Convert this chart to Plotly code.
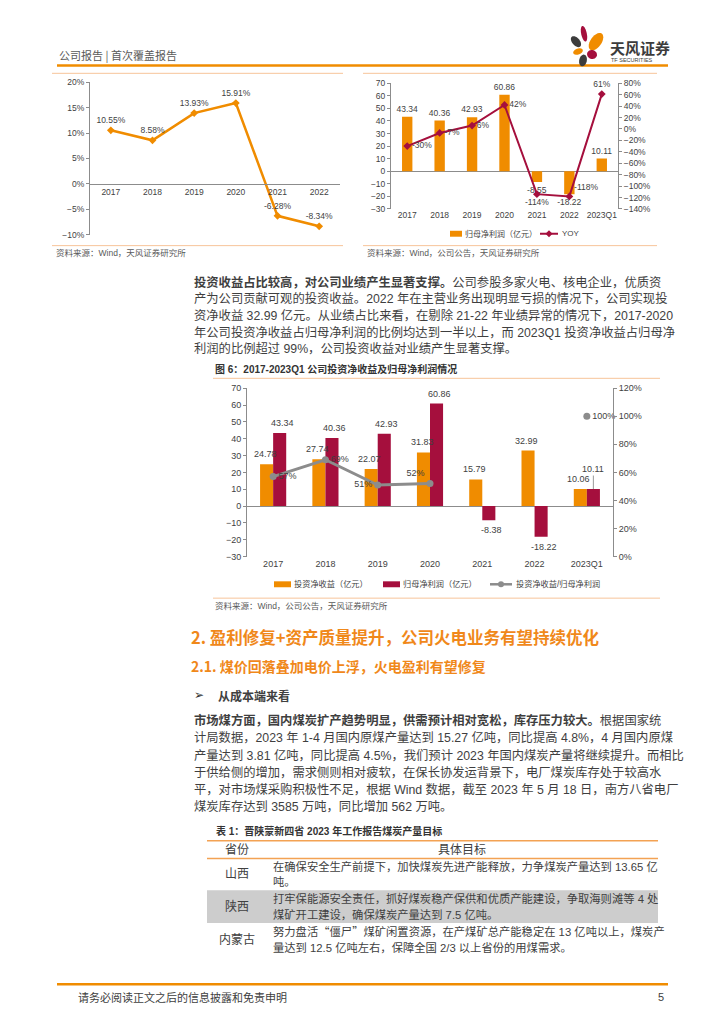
import math
import plotly.graph_objects as go

W, H = 724, 1024
def X(p): return p / W
def Y(p): return 1 - p / H

# ---------------- data ----------------
roe_years = ["2017", "2018", "2019", "2020", "2021", "2022"]
roe_values = [10.55, 8.58, 13.93, 15.91, -6.28, -8.34]

profit_cats = ["2017", "2018", "2019", "2020", "2021", "2022", "2023Q1"]
profit_values = [43.34, 40.36, 42.93, 60.86, -8.55, -18.22, 10.11]
profit_yoy = [-30, -7, 6, 42, -114, -118, 61]

inv_cats = ["2017", "2018", "2019", "2020", "2021", "2022", "2023Q1"]
inv_income = [24.78, 27.74, 22.07, 31.83, 15.79, 32.99, 10.06]
inv_profit = [43.34, 40.36, 42.93, 60.86, -8.38, -18.22, 10.11]
inv_ratio = [57, 69, 51, 52, None, None, 100]

Q = '<span style="font-family:Noto Sans CJK SC">'
para1 = [
    "<b>投资收益占比较高，对公司业绩产生显著支撑。</b>公司参股多家火电、核电企业，优质资",
    "产为公司贡献可观的投资收益。2022 年在主营业务出现明显亏损的情况下，公司实现投",
    "资净收益 32.99 亿元。从业绩占比来看，在剔除 21-22 年业绩异常的情况下，2017-2020",
    "年公司投资净收益占归母净利润的比例均达到一半以上，而 2023Q1 投资净收益占归母净",
    "利润的比例超过 99%，公司投资收益对业绩产生显著支撑。",
]
para2 = [
    "<b>市场煤方面，国内煤炭扩产趋势明显，供需预计相对宽松，库存压力较大。</b>根据国家统",
    "计局数据，2023 年 1-4 月国内原煤产量达到 15.27 亿吨，同比提高 4.8%，4 月国内原煤",
    "产量达到 3.81 亿吨，同比提高 4.5%，我们预计 2023 年国内煤炭产量将继续提升。而相比",
    "于供给侧的增加，需求侧则相对疲软，在保长协发运背景下，电厂煤炭库存处于较高水",
    "平，对市场煤采购积极性不足，根据 Wind 数据，截至 2023 年 5 月 18 日，南方八省电厂",
    "煤炭库存达到 3585 万吨，同比增加 562 万吨。",
]
table_header = ["省份", "具体目标"]
table_rows = [
    ("山西", ["在确保安全生产前提下，加快煤炭先进产能释放，力争煤炭产量达到 13.65 亿", "吨。"]),
    ("陕西", ["打牢保能源安全责任，抓好煤炭稳产保供和优质产能建设，争取海则滩等 4 处", "煤矿开工建设，确保煤炭产量达到 7.5 亿吨。"]),
    ("内蒙古", ["努力盘活" + Q + "“</span>僵尸" + Q + "”</span>煤矿闲置资源，在产煤矿总产能稳定在 13 亿吨以上，煤炭产",
              "量达到 12.5 亿吨左右，保障全国 2/3 以上省份的用煤需求。"]),
]

# ---------------- style ----------------
ORANGE = "#F08C00"
RED = "#A50F3D"
GRAY = "#8C8C8C"
TXT = "#3F3F3F"
AXC = "#8C8C8C"
FRAME = "#F7C49A"
HEAD = "#F0881A"
SANS = "Liberation Sans, Arial, Noto Sans CJK SC, sans-serif"
CJK = "Noto Sans CJK SC, sans-serif"
TF = dict(size=8.5, color=TXT, family=SANS)
TF3 = dict(size=9, color=TXT, family=SANS)

fig = go.Figure()

# ---- chart 1: ROE line ----
fig.add_trace(go.Scatter(
    x=roe_years, y=roe_values, xaxis="x", yaxis="y",
    mode="lines+markers+text", text=[f"{v:.2f}%" for v in roe_values],
    textposition="top center", textfont=TF, cliponaxis=False,
    line=dict(color=ORANGE, width=2.5), marker=dict(symbol="diamond", size=6, color=ORANGE)))

# ---- chart 2: net profit + yoy ----
fig.add_trace(go.Bar(
    x=profit_cats, y=profit_values, xaxis="x2", yaxis="y2", width=0.32,
    marker=dict(color=ORANGE, line=dict(width=0)),
    text=[f"{v:.2f}" for v in profit_values], textposition="outside",
    constraintext="none", cliponaxis=False, textfont=TF))
fig.add_trace(go.Scatter(
    x=profit_cats, y=profit_yoy, xaxis="x2", yaxis="y3",
    mode="lines+markers+text", text=[f"{v}%" for v in profit_yoy],
    textposition=["middle right", "middle right", "middle right", "middle right",
                  "bottom center", "top right", "top center"],
    textfont=TF, cliponaxis=False,
    line=dict(color=RED, width=2), marker=dict(symbol="diamond", size=6, color=RED)))

# ---- chart 3: investment income ----
fig.add_trace(go.Bar(
    x=inv_cats, y=inv_income, xaxis="x3", yaxis="y4", width=0.25, offset=-0.25,
    marker=dict(color=ORANGE, line=dict(width=0)), cliponaxis=False))
fig.add_trace(go.Bar(
    x=inv_cats, y=inv_profit, xaxis="x3", yaxis="y4", width=0.25, offset=0,
    marker=dict(color=RED, line=dict(width=0)), cliponaxis=False))
fig.add_trace(go.Scatter(
    x=inv_cats, y=inv_ratio, xaxis="x3", yaxis="y5",
    mode="lines+markers+text",
    text=[f"{v}%" if v is not None else "" for v in inv_ratio],
    textposition=["middle right", "middle right", "middle left", "top left",
                  "middle right", "middle right", "middle right"],
    textfont=TF3, cliponaxis=False, connectgaps=False,
    line=dict(color=GRAY, width=3), marker=dict(symbol="circle", size=7, color=GRAY)))

# ---------------- axes ----------------
c1_top, c1_bot = 78, 232
zero1 = c1_bot - (0 - (-10)) / 30 * (c1_bot - c1_top)
ax_common = dict(showgrid=False, tickfont=TF, linecolor=AXC, linewidth=1, tickcolor=AXC, fixedrange=True)

layout = dict(
    width=W, height=H, margin=dict(l=0, r=0, t=0, b=0),
    paper_bgcolor="white", plot_bgcolor="rgba(0,0,0,0)", showlegend=False,
    barmode="overlay",
    xaxis=dict(domain=[X(90), X(340)], anchor="free", position=Y(zero1), type="category",
               range=[-0.5, len(roe_years) - 0.5],
               showline=True, ticks="", zeroline=False, **ax_common),
    yaxis=dict(domain=[Y(c1_bot), Y(c1_top)], anchor="x", range=[-10, 20], dtick=5,
               ticksuffix="%", showline=True, ticks="outside", ticklen=3, zeroline=False, **ax_common),
    xaxis2=dict(domain=[X(391), X(618)], anchor="y2", type="category",
                range=[-0.5, len(profit_cats) - 0.5],
                showline=False, ticks="", zeroline=False, **ax_common),
    yaxis2=dict(domain=[Y(206), Y(79)], anchor="x2", range=[-30, 70], dtick=10,
                showline=True, ticks="outside", ticklen=3,
                zeroline=True, zerolinecolor=AXC, zerolinewidth=1, **ax_common),
    yaxis3=dict(overlaying="y2", anchor="x2", side="right", range=[-140, 80], dtick=20,
                ticksuffix="%", showline=True, ticks="outside", ticklen=3, zeroline=False, **ax_common),
    xaxis3=dict(domain=[X(247), X(613)], anchor="y4", type="category",
                range=[-0.5, len(inv_cats) - 0.5],
                showline=False, ticks="", zeroline=False,
                **{**ax_common, "tickfont": TF3}),
    yaxis4=dict(domain=[Y(557), Y(387)], anchor="x3", range=[-30, 70], dtick=10,
                showline=True, ticks="outside", ticklen=3,
                zeroline=True, zerolinecolor=AXC, zerolinewidth=1,
                **{**ax_common, "tickfont": TF3}),
    yaxis5=dict(overlaying="y4", anchor="x3", side="right", range=[0, 120], dtick=20,
                ticksuffix="%", showline=True, ticks="outside", ticklen=3, zeroline=False,
                **{**ax_common, "tickfont": TF3}),
)

# ---------------- page decorations ----------------
shapes = []
ann = []

def hline(x0, x1, y, color, width=1):
    shapes.append(dict(type="line", xref="paper", yref="paper", x0=X(x0), x1=X(x1),
                       y0=Y(y), y1=Y(y), line=dict(color=color, width=width), layer="above"))

def rect(x0, x1, y0, y1, color):
    shapes.append(dict(type="rect", xref="paper", yref="paper", x0=X(x0), x1=X(x1),
                       y0=Y(y1), y1=Y(y0), fillcolor=color, line=dict(width=0), layer="below"))

def txt(x, y, s, size=12.3, color=TXT, anchor="left", family=SANS):
    ann.append(dict(x=X(x), y=Y(y), xref="paper", yref="paper", text=s, showarrow=False,
                    xanchor=anchor, yanchor="middle", font=dict(size=size, color=color, family=family)))

def ellipse(cx, cy, rx, ry, ang, color):
    a = math.radians(ang)
    pts = []
    for k in range(28):
        t = 2 * math.pi * k / 28
        ex, ey = rx * math.cos(t), ry * math.sin(t)
        px_ = cx + ex * math.cos(a) - ey * math.sin(a)
        py_ = cy + ex * math.sin(a) + ey * math.cos(a)
        pts.append(f"{X(px_):.5f},{Y(py_):.5f}")
    shapes.append(dict(type="path", xref="paper", yref="paper", path="M " + " L ".join(pts) + " Z",
                       fillcolor=color, line=dict(width=0), layer="above"))

# chart 3 bar value labels (drawn above all bars); x given as category index
def bar_labels(vals, xshift, skip_last=False):
    for i, v in enumerate(vals):
        if skip_last and i == len(vals) - 1:
            continue
        ann.append(dict(x=i, y=v, xref="x3", yref="y4", text=f"{v:.2f}", showarrow=False,
                        xanchor="center", yanchor="bottom" if v >= 0 else "top",
                        xshift=xshift, yshift=3 if v >= 0 else -3, font=TF3))

bar_labels(inv_income, -8)
bar_labels(inv_profit, 9, skip_last=True)
ann.append(dict(x=len(inv_cats) - 1, y=inv_profit[-1], xref="x3", yref="y4", xshift=6.5,
                text=f"{inv_profit[-1]:.2f}", showarrow=True, arrowhead=0, arrowwidth=0.8,
                arrowcolor="#7F7F7F", ax=0, ay=-20, font=TF3))

# header
txt(57, 50, "公司报告 | 首次覆盖报告", size=11, color="#595959", family=CJK)
hline(57, 668, 61, "#F08C00", 2.5)
# logo
ellipse(584, 29, 2.8, 8, -12, RED)
ellipse(576, 37, 3.8, 6.5, -40, "#3C3C3C")
ellipse(596, 37, 5.5, 10, 35, ORANGE)
ellipse(578, 47, 5, 3, -20, ORANGE)
ellipse(592, 50, 5, 4.5, 20, RED)
ellipse(583, 56, 3.8, 6, 12, "#3C3C3C")
txt(608, 43, "<b>天风证券</b>", size=15, color="#3C3C3C", family=CJK)
txt(609, 55.5, "TF SECURITIES", size=5.5, color="#3C3C3C", family=SANS)

# chart frames
hline(52, 343, 69, FRAME, 1)
hline(52, 343, 243, FRAME, 1)
hline(363, 657, 69, FRAME, 1)
hline(363, 657, 243, FRAME, 1)
txt(54, 250.5, "资料来源：Wind，天风证券研究所", size=8.5, color="#595959")
txt(365, 250.5, "资料来源：Wind，公司公告，天风证券研究所", size=8.5, color="#595959")

# chart 2 legend
rect(450, 462, 228, 234, ORANGE)
txt(463, 231, "归母净利润（亿元）", size=8, color=TXT)
hline(540, 558, 231, RED, 2)
shapes.append(dict(type="path", xref="paper", yref="paper",
                   path=f"M {X(549)},{Y(227.5)} L {X(552.5)},{Y(231)} L {X(549)},{Y(234.5)} L {X(545.5)},{Y(231)} Z",
                   fillcolor=RED, line=dict(width=0)))
txt(560, 231, "YOY", size=8, color=TXT)

# paragraph 1
for i, s in enumerate(para1):
    txt(192, 280 + 16.8 * i, s, size=12.3)

# figure 6 title
txt(213, 368, "<b>图 6：2017-2023Q1 公司投资净收益及归母净利润情况</b>", size=10, color="#333333")
hline(213, 660, 377, FRAME, 1)

# chart 3 legend
rect(274, 291, 582, 588, ORANGE)
txt(292, 585, "投资净收益（亿元）", size=8.2, color=TXT)
rect(383, 400, 582, 588, RED)
txt(401, 585, "归母净利润（亿元）", size=8.2, color=TXT)
hline(490, 512, 585, GRAY, 2.5)
shapes.append(dict(type="circle", xref="paper", yref="paper", x0=X(498), x1=X(504),
                   y0=Y(588), y1=Y(582), fillcolor=GRAY, line=dict(width=0)))
txt(514, 585, "投资净收益/归母净利润", size=8.2, color=TXT)
hline(213, 660, 599, FRAME, 1)
txt(213, 606.5, "资料来源：Wind，公司公告，天风证券研究所", size=8.5, color="#595959")

# section headings
txt(189, 638, "<b>2. 盈利修复+资产质量提升，公司火电业务有望持续优化</b>", size=16.5, color=HEAD, family=CJK)
txt(189, 668, "<b>2.1. 煤价回落叠加电价上浮，火电盈利有望修复</b>", size=14, color=HEAD, family=CJK)
txt(192, 697, "➢", size=12, color="#333333", family="DejaVu Sans")
txt(216, 697, "<b>从成本端来看</b>", size=12, color="#404040", family=CJK)

# paragraph 2
for i, s in enumerate(para2):
    txt(192, 723 + 17.2 * i, s, size=12.3)

# table
txt(214, 834, "<b>表 1：晋陕蒙新四省 2023 年工作报告煤炭产量目标</b>", size=10, color="#333333")
hline(207, 658, 844, "#F3A253", 1.5)
hline(207, 658, 862, "#F3A253", 1.5)
txt(237, 853, table_header[0], size=12, color="#404040", anchor="center")
txt(462, 853, table_header[1], size=12, color="#404040", anchor="center")
row_tops = [862, 894, 927]
row_h = [32, 33, 33]
for (prov, lines), top, h in zip(table_rows, row_tops, row_h):
    if prov == "陕西":
        rect(207, 658, top, top + h, "#CDCDCD")
    mid = top + h / 2
    txt(237, mid, prov, size=12, color="#404040", anchor="center")
    txt(271, mid - 8, lines[0], size=11.3, color="#404040")
    txt(271, mid + 8, lines[1], size=11.3, color="#404040")

# footer
hline(57, 668, 989, "#F08C00", 2.5)
txt(76, 1002, "请务必阅读正文之后的信息披露和免责申明", size=11, color="#404040", family=CJK)
txt(666, 1002, "5", size=11, color="#404040", anchor="right")

layout["shapes"] = shapes
layout["annotations"] = ann
fig.update_layout(**layout)

fig.write_html("out.html", config={"displayModeBar": False},
               post_script="document.body.style.margin='0';document.body.style.overflow='hidden';")
